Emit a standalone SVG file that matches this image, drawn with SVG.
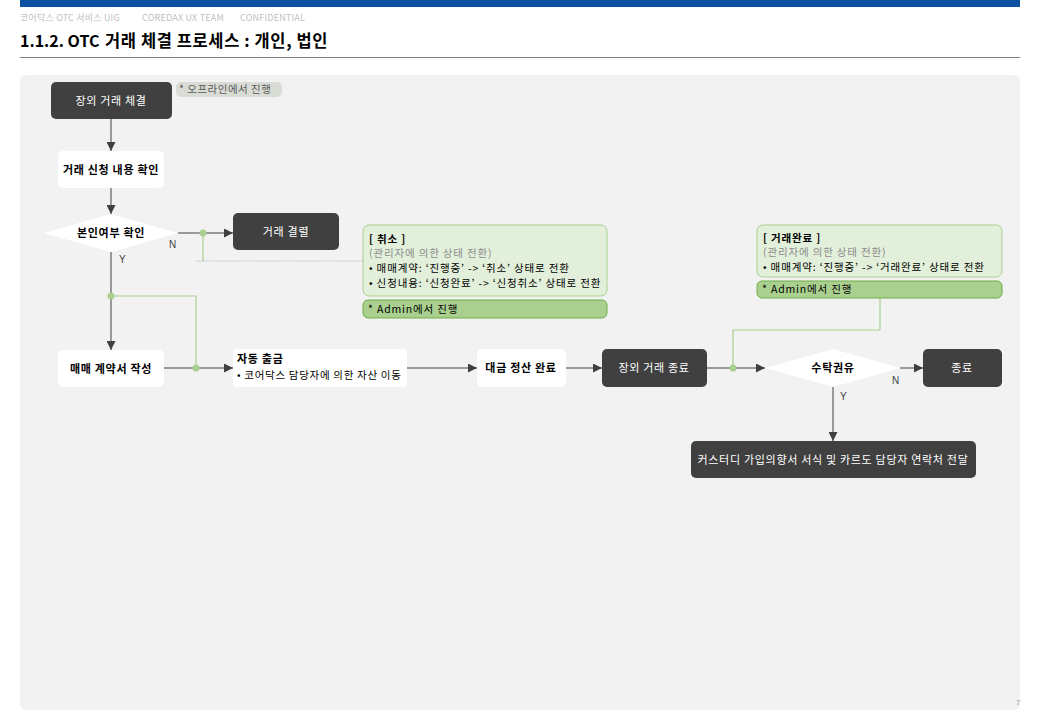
<svg xmlns="http://www.w3.org/2000/svg" width="1040" height="720" viewBox="0 0 1040 720">
<defs>
<style>
text{font-family:"Malgun Gothic","Noto Sans CJK KR","Noto Sans",sans-serif;letter-spacing:0.7px;}
.dark{fill:#404040;}
.white{fill:#ffffff;}
.tw{fill:#ffffff;font-size:11px;text-anchor:middle;}
.tb{fill:#000000;font-size:11px;font-weight:bold;text-anchor:middle;}
.lbl{fill:#404040;font-size:10px;font-family:"Liberation Sans",Arial,sans-serif;letter-spacing:0;}
.conn{stroke:#404040;stroke-width:1;fill:none;}
.g{stroke:#a9d08e;stroke-width:1.2;fill:none;}
.dot{fill:#a9d08e;}
.note{fill:#e2efda;stroke:#a9d08e;stroke-width:1;}
.adm{fill:#a9d08e;stroke:#70ad47;stroke-width:1;}
.nt{font-size:10.5px;fill:#000000;letter-spacing:0.85px;}
.ng{font-size:10.5px;fill:#8c8c8c;letter-spacing:0.85px;}
.hd{font-size:9px;fill:#bfbfbf;letter-spacing:0.2px;}
.ttl{font-size:16.5px;font-weight:bold;fill:#000;letter-spacing:0.6px;}
</style>
<marker id="ah" viewBox="0 0 10 10" refX="10" refY="5" markerWidth="9" markerHeight="9" markerUnits="userSpaceOnUse" orient="auto">
<path d="M0,0 L10,5 L0,10 z" fill="#404040"/>
</marker>
</defs>
<rect x="20" y="0" width="1000" height="7" fill="#0a52a1"/>
<text class="hd" x="20" y="21">코어닥스 OTC 서비스 UIG</text>
<text class="hd" x="142" y="21">COREDAX  UX TEAM</text>
<text class="hd" x="240" y="21">CONFIDENTIAL</text>
<text class="ttl" x="20" y="47" style="font-size:16px;letter-spacing:0;">1.1.2. OTC</text>
<text class="ttl" x="105" y="47">거래 체결 프로세스 : 개인, 법인</text>
<line x1="20" y1="57.5" x2="1020" y2="57.5" stroke="#808080" stroke-width="1"/>
<rect x="20" y="75" width="1000" height="635" rx="6" fill="#f2f2f2"/>
<text x="1016" y="705" style="font-size:8px;fill:#a6a6a6;font-family:'Liberation Sans',sans-serif;letter-spacing:0;">7</text>

<g id="connectors">
<line class="conn" x1="111" y1="119" x2="111" y2="151" marker-end="url(#ah)"/>
<line class="conn" x1="111" y1="188" x2="111" y2="214" marker-end="url(#ah)"/>
<line class="conn" x1="178" y1="233" x2="233" y2="233" marker-end="url(#ah)"/>
<line class="conn" x1="111" y1="252" x2="111" y2="350" marker-end="url(#ah)"/>
<line class="conn" x1="164" y1="368" x2="233" y2="368" marker-end="url(#ah)"/>
<line class="conn" x1="407" y1="368" x2="477" y2="368" marker-end="url(#ah)"/>
<line class="conn" x1="566" y1="368" x2="602" y2="368" marker-end="url(#ah)"/>
<line class="conn" x1="707" y1="368" x2="765" y2="368" marker-end="url(#ah)"/>
<line class="conn" x1="900" y1="368" x2="923" y2="368" marker-end="url(#ah)"/>
<line class="conn" x1="833" y1="387" x2="833" y2="441" marker-end="url(#ah)"/>
<path class="g" d="M203,233 V261"/>
<path class="g" d="M111,296 H196 V368"/>
<line x1="196" y1="261" x2="363" y2="261" stroke="#bfbfbf" stroke-width="1" stroke-dasharray="1.5,1"/>
<path class="g" d="M880,298 V330 H733 V368"/>
<circle class="dot" cx="203" cy="233" r="3.5"/>
<circle class="dot" cx="111" cy="296" r="3.5"/>
<circle class="dot" cx="196" cy="368" r="3.5"/>
<circle class="dot" cx="733" cy="368" r="3.5"/>
<text class="lbl" x="169" y="248">N</text>
<text class="lbl" x="119" y="263">Y</text>
<text class="lbl" x="892" y="384">N</text>
<text class="lbl" x="840" y="400">Y</text>
</g>

<g id="n-start">
<rect class="dark" x="51" y="82" width="121" height="37" rx="5"/>
<text class="tw" x="111" y="105">장외 거래 체결</text>
</g>
<g id="note-offline">
<rect x="176" y="82" width="106" height="15" rx="5" fill="#d9dcd5"/>
<text x="179" y="93" style="font-size:10.5px;fill:#595959;letter-spacing:0.5px;">* 오프라인에서 진행</text>
</g>
<g id="n-check">
<rect class="white" x="58" y="151" width="106" height="37" rx="5"/>
<text class="tb" x="111" y="174">거래 신청 내용 확인</text>
</g>
<g id="d-identity">
<polygon class="white" points="44,233 111,214 178,233 111,252"/>
<text class="tb" x="111" y="237">본인여부 확인</text>
</g>
<g id="n-fail">
<rect class="dark" x="233" y="213" width="106" height="37" rx="5"/>
<text class="tw" x="286" y="236">거래 결렬</text>
</g>
<g id="note-cancel">
<rect class="note" x="363" y="225" width="244" height="71" rx="6"/>
<text class="nt" x="369" y="243" style="font-weight:bold;">[ 취소 ]</text>
<text class="ng" x="369" y="257">(관리자에 의한 상태 전환)</text>
<text class="nt" x="369" y="272">• 매매계약: ‘진행중’ -&gt; ‘취소’ 상태로 전환</text>
<text class="nt" x="369" y="287">• 신청내용: ‘신청완료’ -&gt; ‘신청취소’ 상태로 전환</text>
</g>
<g id="note-admin1">
<rect class="adm" x="363" y="300" width="244" height="18" rx="5"/>
<text class="nt" x="368" y="313">* Admin에서 진행</text>
</g>
<g id="note-done">
<rect class="note" x="757" y="225" width="245" height="52" rx="6"/>
<text class="nt" x="763" y="242" style="font-weight:bold;">[ 거래완료 ]</text>
<text class="ng" x="763" y="256">(관리자에 의한 상태 전환)</text>
<text class="nt" x="763" y="271">• 매매계약: ‘진행중’ -&gt; ‘거래완료’ 상태로 전환</text>
</g>
<g id="note-admin2">
<rect class="adm" x="757" y="281" width="245" height="17" rx="5"/>
<text class="nt" x="762" y="293">* Admin에서 진행</text>
</g>
<g id="n-contract">
<rect class="white" x="58" y="350" width="106" height="37" rx="5"/>
<text class="tb" x="111" y="373">매매 계약서 작성</text>
</g>
<g id="n-withdraw">
<rect class="white" x="233" y="349" width="174" height="38" rx="4"/>
<text x="237" y="363" style="font-size:11px;font-weight:bold;fill:#000;">자동 출금</text>
<text x="237" y="379" style="font-size:10.5px;fill:#000;">• 코어닥스 담당자에 의한 자산 이동</text>
</g>
<g id="n-settle">
<rect class="white" x="477" y="349" width="89" height="38" rx="5"/>
<text class="tb" x="521" y="372">대금 정산 완료</text>
</g>
<g id="n-end-otc">
<rect class="dark" x="602" y="349" width="105" height="38" rx="5"/>
<text class="tw" x="654" y="372">장외 거래 종료</text>
</g>
<g id="d-custody">
<polygon class="white" points="765,368 833,349 900,368 833,387"/>
<text class="tb" x="833" y="372">수탁권유</text>
</g>
<g id="n-end">
<rect class="dark" x="923" y="349" width="79" height="38" rx="5"/>
<text class="tw" x="962" y="372">종료</text>
</g>
<g id="n-custody-info">
<rect class="dark" x="691" y="441" width="285" height="37" rx="5"/>
<text class="tw" x="833" y="464">커스터디 가입의향서 서식 및 카르도 담당자 연락처 전달</text>
</g>
</svg>
